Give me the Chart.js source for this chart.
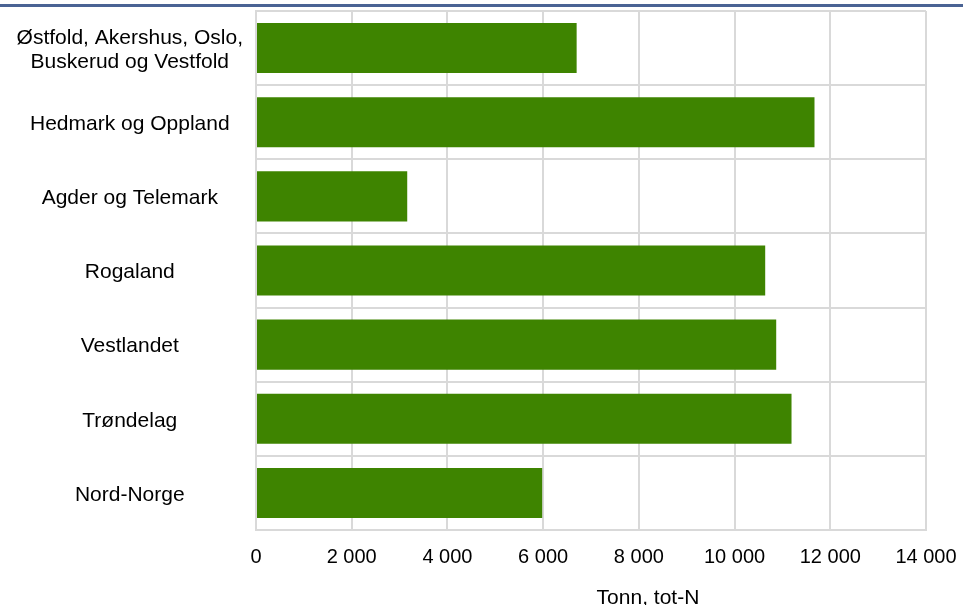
<!DOCTYPE html>
<html>
<head>
<meta charset="utf-8">
<script src="https://cdn.jsdelivr.net/npm/chart.js@4.4.1/dist/chart.umd.min.js"></script>
<style>
  html, body { margin: 0; padding: 0; background: #fff; }
  #wrap { width: 963px; height: 605px; position: relative; }
</style>
</head>
<body>
<div id="wrap"><canvas id="myChart"></canvas></div>
<script>
// regions and nitrogen amounts (tonn tot-N)
var regioner = [
  ['Østfold, Akershus, Oslo,', 'Buskerud og Vestfold'],
  'Hedmark og Oppland',
  'Agder og Telemark',
  'Rogaland',
  'Vestlandet',
  'Trøndelag',
  'Nord-Norge'
];
var tonnN = [6700, 11670, 3160, 10640, 10870, 11190, 5980];
var aksetittel = 'Tonn, tot-N';

var gridFarge = '#d9d9d9';
var familie = "'Liberation Sans', Arial, sans-serif";

// blue rule across the top + the x axis title
var pynt = {
  id: 'pynt',
  beforeDraw: function (chart) {
    var ctx = chart.ctx;
    ctx.save();
    ctx.fillStyle = '#4a6394';
    ctx.fillRect(0, 4, chart.width, 3);
    ctx.restore();
  },
  afterDraw: function (chart) {
    var ctx = chart.ctx;
    var a = chart.chartArea;
    ctx.save();
    ctx.font = '21px ' + familie;
    ctx.fillStyle = '#000';
    ctx.textAlign = 'center';
    ctx.textBaseline = 'alphabetic';
    ctx.fillText(aksetittel, a.left + (a.right - a.left) * 0.585, 604);
    ctx.restore();
  }
};

function tusen(v) {
  return String(v).replace(/\B(?=(\d{3})+(?!\d))/g, ' ');
}

var ctx = document.getElementById('myChart').getContext('2d');
var chart = new Chart(ctx, {
  type: 'bar',
  data: {
    labels: regioner,
    datasets: [{
      data: tonnN,
      backgroundColor: '#3e8400',
      borderWidth: 0,
      barPercentage: 0.9,
      categoryPercentage: 0.75
    }]
  },
  options: {
    indexAxis: 'y',
    responsive: true,
    maintainAspectRatio: false,
    animation: false,
    layout: { padding: { top: 11, right: 37, left: 0, bottom: 0 } },
    plugins: {
      legend: { display: false },
      tooltip: { enabled: false }
    },
    scales: {
      x: {
        min: 0,
        max: 14000,
        ticks: {
          stepSize: 2000,
          color: '#000',
          font: { family: familie, size: 20 },
          padding: 15,
          maxRotation: 0,
          callback: function (v) { return tusen(v); }
        },
        grid: { color: gridFarge, lineWidth: 2, drawTicks: false },
        border: { color: gridFarge, width: 2 },
        afterFit: function (s) {
          s.height = 75;
          s.paddingLeft = 0;
          s.paddingRight = 0;
        }
      },
      y: {
        ticks: {
          color: '#000',
          font: { family: familie, size: 21, lineHeight: 1.15 },
          padding: 13,
          labelOffset: 2,
          crossAlign: 'center'
        },
        grid: { color: gridFarge, lineWidth: 2, drawTicks: false },
        border: { color: gridFarge, width: 2 },
        afterFit: function (s) {
          s.width = 256;
          s.paddingTop = 0;
          s.paddingBottom = 0;
        }
      }
    }
  },
  plugins: [pynt]
});
</script>
</body>
</html>
